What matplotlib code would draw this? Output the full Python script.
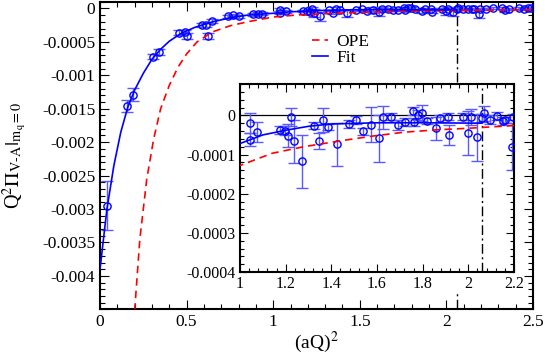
import numpy as np
import matplotlib
matplotlib.use('Agg')
import matplotlib.pyplot as plt
from matplotlib.ticker import MultipleLocator, AutoMinorLocator, FuncFormatter

plt.rcParams['font.family'] = ['Liberation Serif', 'DejaVu Serif']
plt.rcParams['mathtext.fontset'] = 'stix'
plt.rcParams['axes.unicode_minus'] = False

# lattice data, (aQ)^2 vs Q^2 Pi_{V-A}
x_data = [0.042, 0.154, 0.192, 0.308, 0.342, 0.458, 0.49, 0.50, 0.59, 0.61,
          0.625, 0.644, 0.74, 0.77, 0.80, 0.885, 0.915, 0.935,
          1.042, 1.042, 1.076, 1.174, 1.196, 1.21, 1.225, 1.235, 1.273, 1.324,
          1.345, 1.362, 1.385, 1.425, 1.476, 1.51, 1.54, 1.575, 1.61, 1.628,
          1.66, 1.69, 1.723, 1.756, 1.762, 1.781, 1.796, 1.82, 1.858, 1.876,
          1.91, 1.915, 1.975, 2.0, 2.012, 2.04, 2.06, 2.069, 2.095, 2.124,
          2.15, 2.16, 2.195, 2.19,
          2.23, 2.27, 2.32, 2.34, 2.36, 2.42, 2.45, 2.47, 2.49]
y_data = [-29.5, -14.6, -12.9, -7.2, -6.5, -3.6, -3.5, -4.1, -2.4, -2.5,
          -4.1, -1.9, -1.2, -1.0, -1.2, -0.9, -0.8, -0.8,
          -0.20, -0.62, -0.43, -0.37, -0.39, -0.52, -0.04, -0.66, -1.17, -0.26,
          -0.65, -0.12, -0.29, -0.74, -0.23, -0.11, -0.41, -0.24, -0.59, -0.05,
          -0.03, -0.25, -0.16, 0.12, -0.18, 0.01, 0.06, -0.15, -0.33, -0.08,
          -0.03, -0.50, -0.03, -0.45, -0.05, -0.56, -0.06, 0.05, -0.11, -0.01,
          -0.15, -0.11, -0.05, -0.80,
          -0.10, 0.10, 0.00, -0.30, -0.05, 0.05, -0.10, 0.00, 0.02]
y_err = [3.7, 0.9, 1.0, 0.4, 0.4, 0.4, 0.3, 0.5, 0.3, 0.3,
         0.5, 0.3, 0.2, 0.2, 0.2, 0.2, 0.2, 0.2,
         0.25, 0.17, 0.26, 0.10, 0.12, 0.30, 0.22, 0.55, 0.68, 0.10,
         0.20, 0.31, 0.08, 0.55, 0.10, 0.10, 0.08, 0.45, 0.60, 0.30,
         0.10, 0.12, 0.10, 0.10, 0.10, 0.12, 0.20, 0.08, 0.30, 0.10,
         0.10, 0.25, 0.08, 0.55, 0.20, 0.60, 0.10, 0.20, 0.12, 0.10,
         0.10, 0.08, 0.08, 0.60,
         0.15, 0.15, 0.15, 0.20, 0.15, 0.15, 0.15, 0.15, 0.15]
scale = 1e-4

# fit curve
x_fit = [0.0, 0.04, 0.08, 0.12, 0.16, 0.20, 0.25, 0.30, 0.35, 0.40, 0.47,
         0.55, 0.65, 0.75, 0.85, 1.00, 1.10, 1.20, 1.30, 1.40, 1.60, 1.80, 2.06]
y_fit = [-39.0, -30.0, -23.5, -18.5, -14.8, -12.2, -9.7, -7.6, -6.1, -4.9, -3.7,
         -2.8, -2.0, -1.4, -1.0, -0.72, -0.50, -0.38, -0.28, -0.22, -0.19, -0.19, -0.20]

# OPE curve
x_ope = [0.20, 0.23, 0.27, 0.31, 0.35, 0.40, 0.45, 0.50, 0.56, 0.65, 0.75,
         0.85, 1.00, 1.14, 1.28, 1.43, 1.58, 1.72, 1.86, 2.00, 2.20, 2.50]
y_ope = [-45.2, -34.5, -25.5, -19.5, -15.0, -11.5, -8.8, -6.8, -5.0, -3.5, -2.6,
         -2.0, -1.28, -0.97, -0.80, -0.66, -0.53, -0.43, -0.37, -0.33, -0.26, -0.20]

x_cut = 2.06

xd = np.array(x_data)
yd = np.array(y_data) * scale
ed = np.array(y_err) * scale
xf = np.array(x_fit)
yf = np.array(y_fit) * scale
xo = np.array(x_ope)
yo = np.array(y_ope) * scale

err_col = '#5a5aff'


def label(v, p, low=None):
    if low is not None and v < low:
        return ''
    return '%g' % (round(v, 8) + 0.0)


fmt = FuncFormatter(label)


def draw(ax, ms, cap):
    ax.errorbar(xd, yd, yerr=ed, fmt='none', ecolor=err_col, elinewidth=1.0,
                capsize=cap, capthick=1.0, zorder=2)
    ax.plot(xd, yd, 'o', ms=ms, mfc='none', mec='blue', mew=1.0, zorder=3)
    ax.plot(xo, yo, color='red', lw=1.2, dashes=(4.5, 3), label='OPE', zorder=4)
    ax.plot(xf, yf, color='blue', lw=1.2, label='Fit', zorder=4)


def style(ax, maj, mnr, lw):
    ax.tick_params(which='both', direction='in', top=True, right=True, width=0.8)
    ax.tick_params(which='major', length=maj)
    ax.tick_params(which='minor', length=mnr)
    for s in ax.spines.values():
        s.set_linewidth(lw)
    ax.xaxis.set_major_formatter(fmt)
    ax.yaxis.set_major_formatter(fmt)


fig = plt.figure(figsize=(5.45, 3.57), dpi=100)
ax = fig.add_axes([0.1835, 0.1336, 0.7945, 0.8614])
draw(ax, 5.2, 4.5)
ax.axvline(x_cut, ymin=0.74, ymax=1, color='black', lw=1.0, dashes=(7, 2.5, 1.5, 2.5))
ax.axvline(x_cut, ymin=0, ymax=0.053, color='black', lw=1.0, dashes=(7, 2.5, 1.5, 2.5))
ax.set_xlim(0, 2.5)
ax.set_ylim(-0.0045, 0.0001)
ax.xaxis.set_major_locator(MultipleLocator(0.5))
ax.xaxis.set_minor_locator(AutoMinorLocator(5))
ax.yaxis.set_major_locator(MultipleLocator(0.0005))
ax.yaxis.set_minor_locator(AutoMinorLocator(5))
style(ax, 6.5, 3.5, 1.5)
ax.yaxis.set_major_formatter(FuncFormatter(lambda v, p: label(v, p, -0.0044)))
ax.tick_params(labelsize=12.5)
ax.set_xlabel(r'(aQ)$^2$', fontsize=14, labelpad=0)
ax.set_ylabel(r'Q$^2\Pi_{\mathrm{V\text{-}A}}|_{\mathrm{m_q=0}}$', fontsize=14.5)
ax.yaxis.set_label_coords(-0.165, 0.5)
ax.legend(loc='upper left', bbox_to_anchor=(0.49, 0.895), frameon=False,
          fontsize=12.5, handlelength=0.9, handletextpad=0.5, labelspacing=0.0,
          borderpad=0, borderaxespad=0)

ins = fig.add_axes([0.4404, 0.238, 0.5027, 0.5267])
ins.set_facecolor('white')
draw(ins, 5.2, 4.5)
ins.axhline(0, color='black', lw=0.9, zorder=1)
ins.axvline(x_cut, color='black', lw=1.0, dashes=(7, 2.5, 1.5, 2.5), zorder=1)
ins.set_xlim(1, 2.2)
ins.set_ylim(-0.0004, 0.00008)
ins.xaxis.set_major_locator(MultipleLocator(0.2))
ins.xaxis.set_minor_locator(AutoMinorLocator(5))
ins.yaxis.set_major_locator(MultipleLocator(0.0001))
ins.yaxis.set_minor_locator(AutoMinorLocator(5))
style(ins, 5.5, 3, 1.5)
ins.tick_params(labelsize=11.5, pad=3)

fig.savefig('out.png', dpi=100)
